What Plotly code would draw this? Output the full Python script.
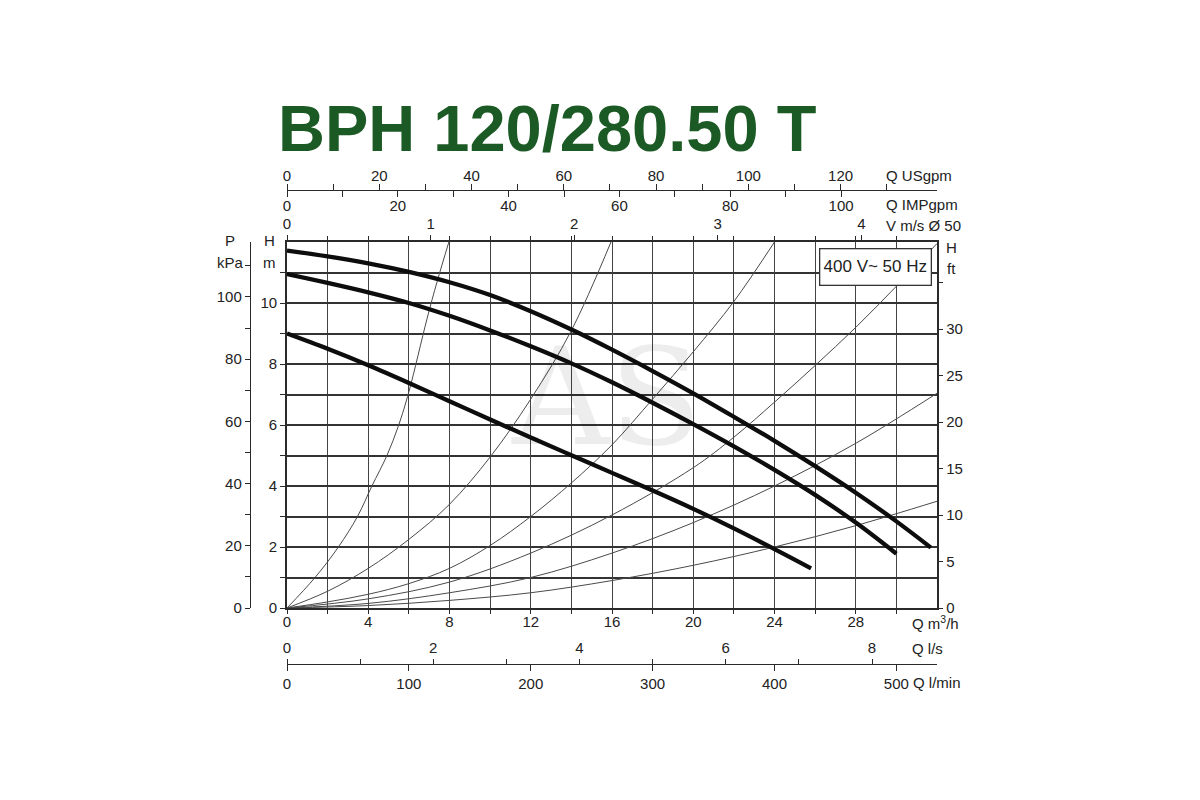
import plotly.graph_objects as go

# ---------------- data ----------------
# pump curves: flow Q [m3/h] vs head H [m]
pump_top_q = [0, 2, 4, 6, 8, 10, 12, 14, 16, 18, 20, 22, 24, 26, 28, 30, 31.7]
pump_top_h = [11.72, 11.53, 11.30, 11.02, 10.68, 10.26, 9.73, 9.13, 8.47, 7.77, 7.04, 6.27, 5.48, 4.65, 3.78, 2.84, 1.98]
pump_mid_q = [0, 2, 4, 6, 8, 10, 12, 14, 16, 18, 20, 22, 24, 26, 28, 30]
pump_mid_h = [10.95, 10.66, 10.35, 10.00, 9.58, 9.10, 8.58, 8.02, 7.40, 6.73, 6.03, 5.30, 4.53, 3.71, 2.80, 1.78]
pump_low_q = [0, 2, 4, 6, 8, 10, 12, 14, 16, 18, 20, 22, 24, 25.8]
pump_low_h = [9.00, 8.50, 7.96, 7.38, 6.78, 6.18, 5.59, 5.01, 4.43, 3.85, 3.25, 2.61, 1.93, 1.30]

# system (pipe) curves
sys1_q = [0, 1.38, 2.53, 3.47, 4.18, 4.92, 5.5, 6.0, 6.9, 7.39, 7.97]
sys1_h = [0, 1.0, 2.0, 3.0, 4.0, 5.0, 6.0, 7.09, 9.5, 10.7, 12.0]
sys2_q = [0, 2, 4, 6, 8, 10, 12, 14, 15.95]
sys2_h = [0, 0.55, 1.3, 2.25, 3.4, 4.95, 6.85, 9.1, 12.0]
sys3_q = [0, 2, 4, 6, 8, 10, 12, 14, 16, 18, 20, 22, 24]
sys3_h = [0, 0.2, 0.45, 0.8, 1.3, 2.05, 3.0, 4.1, 5.35, 6.85, 8.4, 10.05, 12.0]
sys4_q = [0, 4, 8, 12, 16, 20, 22, 24, 26, 28, 30, 32]
sys4_h = [0, 0.3, 0.85, 1.8, 3.05, 4.6, 5.6, 6.75, 7.95, 9.2, 10.55, 11.95]
sys5_q = [0, 4, 8, 12, 16, 20, 24, 28, 32]
sys5_h = [0, 0.15, 0.5, 1.0, 1.8, 2.8, 4.0, 5.4, 7.04]
sys6_q = [0, 4, 8, 12, 16, 20, 24, 28, 32]
sys6_h = [0, 0.08, 0.25, 0.5, 0.9, 1.4, 2.0, 2.7, 3.5]

# axis definitions
q_max = 32            # m3/h
h_max = 12            # m
q_ticks = [0, 4, 8, 12, 16, 20, 24, 28]
q_minor = [2, 6, 10, 14, 18, 22, 26, 30]
h_ticks = [0, 2, 4, 6, 8, 10]
h_minor = [1, 3, 5, 7, 9, 11]
kpa_ticks = [0, 20, 40, 60, 80, 100]
kpa_minor = [10, 30, 50, 70, 90, 110]
ft_ticks = [0, 5, 10, 15, 20, 25, 30]
ft_minor = [35]
usgpm_ticks = [0, 20, 40, 60, 80, 100, 120]
usgpm_minor = [10, 30, 50, 70, 90, 110, 130]
impgpm_ticks = [0, 20, 40, 60, 80, 100]
impgpm_minor = [10, 30, 50, 70, 90]
vel_ticks = [0, 1, 2, 3, 4]
ls_ticks = [0, 2, 4, 6, 8]
ls_minor = [1, 3, 5, 7]
lmin_ticks = [0, 100, 200, 300, 400, 500]

# unit conversions
M3H_TO_USGPM = 4.40287
M3H_TO_IMPGPM = 3.66615
M3H_PER_MS_DN50 = 7.0686
M3H_TO_LS = 1 / 3.6
M3H_TO_LMIN = 1000 / 60
M_TO_KPA = 9.80665
M_TO_FT = 3.28084

title_text = "BPH 120/280.50 T"
box_text = "400 V~ 50 Hz"

# ---------------- layout helpers ----------------
W, H = 1200, 800
ML, MR, MT, MB = 200, 200, 80, 80
PW, PH = W - ML - MR, H - MT - MB
OFF = 8   # page offset of the figure


def px(x):
    return (x - OFF - ML) / PW


def py(y):
    return (H - MB - (y - OFF)) / PH


X0, X1 = px(287), px(937)
Y0, Y1 = py(608), py(242)

FONT = "Liberation Sans, Arial, sans-serif"
TF = dict(family=FONT, size=15, color="#222")
AX = "#2a2a2a"

fig = go.Figure()

thin = [(sys1_q, sys1_h), (sys2_q, sys2_h), (sys3_q, sys3_h),
        (sys4_q, sys4_h), (sys5_q, sys5_h), (sys6_q, sys6_h)]
for qx, hy in thin:
    fig.add_trace(go.Scatter(x=qx, y=hy, mode="lines", line=dict(color="#4a4a4a", width=1, shape="spline"),
                             hoverinfo="skip", showlegend=False))

for qx, hy in [(pump_top_q, pump_top_h), (pump_mid_q, pump_mid_h), (pump_low_q, pump_low_h)]:
    fig.add_trace(go.Scatter(x=qx, y=hy, mode="lines", line=dict(color="#0d0d0d", width=4.3, shape="spline"),
                             hoverinfo="skip", showlegend=False))

# invisible helper traces to activate the secondary axes
for xa, ya in [("x2", "y"), ("x3", "y"), ("x4", "y"), ("x5", "y"), ("x6", "y"), ("x", "y2"), ("x", "y3")]:
    fig.add_trace(go.Scatter(x=[0], y=[0], xaxis=xa, yaxis=ya, mode="markers",
                             marker=dict(opacity=0, size=1), hoverinfo="skip", showlegend=False))

common_free = dict(showgrid=False, zeroline=False, tickfont=TF, tickcolor=AX, linecolor=AX, linewidth=1.4,
                   tickmode="array", fixedrange=True)

fig.update_layout(
    width=W, height=H,
    margin=dict(l=ML, r=MR, t=MT, b=MB),
    paper_bgcolor="white", plot_bgcolor="white",
    showlegend=False,
    xaxis=dict(domain=[X0, X1], range=[0, q_max], tickmode="array", tickvals=q_ticks,
               ticks="outside", ticklen=4, tickcolor=AX, tickwidth=1.2, ticklabelstandoff=-5,
               showline=True, linecolor=AX, linewidth=1.6, mirror="ticks",
               showgrid=True, gridcolor="#444", gridwidth=1.4, zeroline=False, tickfont=TF,
               minor=dict(tickmode="array", tickvals=q_minor, ticks="outside", ticklen=4, tickcolor=AX,
                          showgrid=True, gridcolor="#444", gridwidth=1.4),
               anchor="y"),
    yaxis=dict(domain=[Y0, Y1], range=[0, h_max], tickmode="array", tickvals=h_ticks,
               ticks="outside", ticklen=5, tickcolor=AX, tickwidth=1.2,
               showline=True, linecolor=AX, linewidth=1.6, mirror=True,
               showgrid=True, gridcolor="#333", gridwidth=1.7, zeroline=False, tickfont=TF,
               minor=dict(tickmode="array", tickvals=h_minor, ticks="outside", ticklen=5, tickcolor=AX,
                          showgrid=True, gridcolor="#333", gridwidth=1.7),
               anchor="x"),
    yaxis2=dict(overlaying="y", anchor="free", position=px(250), side="left",
                range=[0, h_max * M_TO_KPA], tickvals=kpa_ticks, ticks="outside", ticklen=5,
                showline=True, minor=dict(tickmode="array", tickvals=kpa_minor, ticks="outside", ticklen=5,
                                          tickcolor=AX),
                **common_free),
    yaxis3=dict(overlaying="y", anchor="x", side="right",
                range=[0, h_max * M_TO_FT], tickvals=ft_ticks, ticks="outside", ticklen=5,
                showline=True, minor=dict(tickmode="array", tickvals=ft_minor, ticks="outside", ticklen=5,
                                          tickcolor=AX),
                **common_free),
    xaxis2=dict(overlaying="x", anchor="free", position=py(190), side="top",
                range=[0, q_max * M3H_TO_USGPM], tickvals=usgpm_ticks, ticks="outside", ticklen=6,
                ticklabelstandoff=-3,
                showline=True, minor=dict(tickmode="array", tickvals=usgpm_minor, ticks="outside", ticklen=6,
                                          tickcolor=AX),
                **common_free),
    xaxis3=dict(overlaying="x", anchor="free", position=py(190), side="bottom",
                range=[0, q_max * M3H_TO_IMPGPM], tickvals=impgpm_ticks, ticks="outside", ticklen=6,
                ticklabelstandoff=-4,
                showline=False, minor=dict(tickmode="array", tickvals=impgpm_minor, ticks="outside", ticklen=6,
                                           tickcolor=AX),
                **common_free),
    xaxis4=dict(overlaying="x", anchor="free", position=Y1, side="top",
                range=[0, q_max / M3H_PER_MS_DN50], tickvals=vel_ticks, ticks="outside", ticklen=7,
                showline=False, **common_free),
    xaxis5=dict(overlaying="x", anchor="free", position=py(664), side="top",
                range=[0, q_max * M3H_TO_LS], tickvals=ls_ticks, ticks="outside", ticklen=5,
                showline=True, minor=dict(tickmode="array", tickvals=ls_minor, ticks="outside", ticklen=5,
                                          tickcolor=AX),
                **common_free),
    xaxis6=dict(overlaying="x", anchor="free", position=py(664), side="bottom",
                range=[0, q_max * M3H_TO_LMIN], tickvals=lmin_ticks, ticks="outside", ticklen=6,
                showline=False, **common_free),
)

ann = []


def label(text, x, y, anchor="left", size=15, **kw):
    ann.append(dict(text=text, x=px(x), y=py(y), xref="paper", yref="paper", xanchor=anchor,
                    yanchor="middle", showarrow=False, font=dict(family=FONT, size=size, color="#222"), **kw))


# title
ann.append(dict(text=title_text, x=px(276), y=py(128), xref="paper", yref="paper", xanchor="left",
                yanchor="middle", showarrow=False,
                font=dict(family="Liberation Sans, Arial, sans-serif", size=65, color="#1b5a24", weight="bold")))

# axis name labels
label("Q USgpm", 884, 176)
label("Q IMPgpm", 884, 204)
label("V m/s Ø 50", 884, 226)
label("P", 230, 241, anchor="center")
label("kPa", 230, 262, anchor="center")
label("H", 269, 241, anchor="center")
label("m", 269, 262, anchor="center")
label("H", 951, 247, anchor="center")
label("ft", 951, 268, anchor="center")
label("Q m<sup>3</sup>/h", 910, 622)
label("Q l/s", 910, 648)
label("Q l/min", 911, 682)

# watermark
ann.append(dict(text="AS", x=px(606), y=py(397), xref="paper", yref="paper", xanchor="center",
                yanchor="middle", showarrow=False,
                font=dict(family="DejaVu Serif, serif", size=135, color="rgba(0,0,0,0.07)")))

# voltage box
ann.append(dict(text=box_text, x=px(875), y=py(266.5), xref="paper", yref="paper", xanchor="center",
                yanchor="middle", showarrow=False, width=104, height=29, borderpad=3,
                bordercolor="#333", borderwidth=1.3, bgcolor="white",
                font=dict(family=FONT, size=17, color="#222")))

fig.update_layout(annotations=ann)

fig.write_html("out.html")
